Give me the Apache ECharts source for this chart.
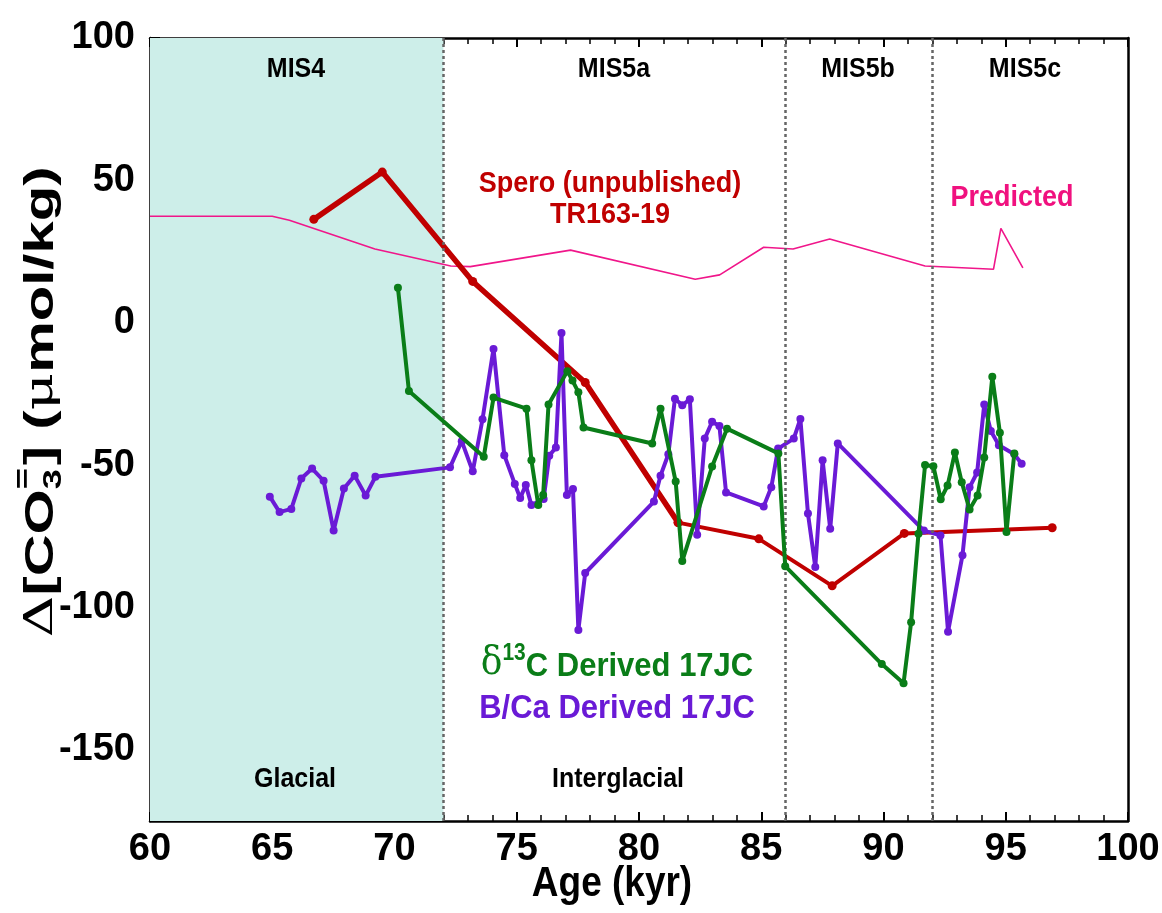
<!DOCTYPE html>
<html>
<head>
<meta charset="utf-8">
<title>Carbonate ion reconstruction, 60-100 kyr</title>
<script src="https://cdn.jsdelivr.net/npm/echarts@6/dist/echarts.min.js"></script>
<style>
  html, body { margin: 0; padding: 0; background: #ffffff; }
  #chart { width: 1162px; height: 913px; }
</style>
</head>
<body>
<div id="chart"></div>
<script>
// ---- data -------------------------------------------------------------
// Predicted carbonate ion change (thin pink curve)
const predictedAge = [60, 65, 65.7, 69.2, 72.3, 73.1, 77.2, 82.3, 83.3, 85.1, 86.3, 87.8, 91.7, 94.5, 94.8, 95.7];
const predictedCO3 = [37.4, 37.4, 36, 25.9, 19.9, 19.7, 25.5, 15.3, 16.8, 26.5, 25.9, 29.4, 19.9, 18.8, 33.1, 19.3];

// Spero (unpublished), TR163-19
const speroAge = [66.7, 69.5, 73.2, 77.8, 81.6, 84.9, 87.9, 90.85, 96.9];
const speroCO3 = [36.3, 52.9, 14.5, -21, -70.2, -75.9, -92.4, -74, -72];

// d13C derived, 17JC
const d13cAge = [70.14, 70.59, 73.65, 74.05, 75.4, 75.6, 75.88, 76.08, 76.3, 77.07, 77.28, 77.52, 77.73,
  80.54, 80.88, 81.5, 81.77, 82.99, 83.6, 85.7, 85.98, 89.93, 90.82, 91.13, 91.43, 91.7, 92.04, 92.34,
  92.62, 92.92, 93.2, 93.52, 93.85, 94.12, 94.45, 94.76, 95.03, 95.35];
const d13cCO3 = [12.3, -24, -47.1, -26.3, -30.2, -48.3, -64, -60.5, -28.7, -17, -20.3, -24.4, -36.8,
  -42.4, -30.2, -55.8, -83.7, -50.5, -37.2, -45.9, -85.5, -119.9, -126.6, -105.2, -74.1, -50, -50.4, -62,
  -57.2, -45.6, -56, -65.6, -60.7, -47.3, -19, -38.6, -73.5, -45.9];

// B/Ca derived, 17JC
const bcaAge = [64.9, 65.3, 65.78, 66.19, 66.63, 67.1, 67.51, 67.93, 68.37, 68.82, 69.22, 72.27, 72.75,
  73.2, 73.6, 74.05, 74.49, 74.92, 75.14, 75.37, 75.6, 76.1, 76.33, 76.6, 76.83, 77.05, 77.3, 77.52, 77.8,
  80.61, 80.88, 81.2, 81.47, 81.77, 82.08, 82.38, 82.69, 82.99, 83.29, 83.56, 85.1, 85.41, 85.69, 86.33,
  86.6, 86.91, 87.21, 87.51, 87.82, 88.13, 91.65, 92.33, 92.64, 93.23, 93.52, 93.83, 94.12, 94.39, 94.72,
  95.35, 95.65];
const bcaCO3 = [-61.1, -66.5, -65.4, -54.7, -51.2, -55.5, -73, -58.2, -53.7, -60.7, -54.1, -50.8, -41.6,
  -52.2, -33.9, -9.2, -46.5, -56.6, -61.6, -57, -64, -61.9, -46.7, -43.8, -3.6, -60.5, -58.4, -107.9, -87.9,
  -62.8, -53.7, -46.2, -26.7, -29, -26.9, -74.5, -40.7, -34.8, -36.3, -59.6, -64.5, -57.8, -44.2, -40.7,
  -33.8, -67, -85.8, -48.3, -72.4, -42.4, -73, -74.7, -108.5, -81.7, -57.8, -52.6, -28.7, -38, -43,
  -46.2, -49.5];

// Marine isotope stage boundaries and glacial interval
const glacialSpan = [60, 72];
const stageBoundaries = [72, 86, 92];

// Axis ticks
const yMajorTicks = [-150, -100, -50, 0, 50, 100];
const yMinorTicks = [-170, -160, -140, -130, -120, -110, -90, -80, -70, -60, -40, -30, -20, -10,
  10, 20, 30, 40, 60, 70, 80, 90];

// ---- helpers ----------------------------------------------------------
const zip = (xs, ys) => xs.map((x, i) => [x, ys[i]]);

const SANS = '"Liberation Sans", Arial, sans-serif';
const BOLD = 'bold 25px ' + SANS;
const C_RED = '#c00000', C_GREEN = '#0a7d18', C_PURPLE = '#6a1ad6', C_PINK = '#f0168a';

const measureCtx = document.createElement('canvas').getContext('2d');
function textWidth(str, font) { measureCtx.font = font; return measureCtx.measureText(str).width; }

// Rotated y-axis title: Δ[CO3=] (μmol/kg) built from pieces
function yTitle() {
  const fBold = 'bold 40px ' + SANS;
  const fSym = '40px "DejaVu Serif", "Liberation Serif", serif';
  const fSmall = 'bold 25px ' + SANS;
  const pieces = [
    { t: 'Δ', f: fSym, dy: 0 },
    { t: '[CO', f: fBold, dy: 0 },
    { t: '3', f: fSmall, dy: 12, stack: true },
    { t: '=', f: fSmall, dy: -18, stackTop: true },
    { t: '] (', f: fBold, dy: 0 },
    { t: 'μ', f: fSym, dy: 0 },
    { t: 'mol/kg)', f: fBold, dy: 0 }
  ];
  let x = 0; const els = [];
  let stackX = 0, stackW = 0;
  pieces.forEach(p => {
    const w = textWidth(p.t, p.f);
    if (p.stack) { stackX = x; stackW = w; }
    const px = p.stackTop ? stackX : x;
    els.push({ type: 'text', x: px, y: p.dy,
      style: { text: p.t, font: p.f, fill: '#000', verticalAlign: 'middle' } });
    if (p.stackTop) { x = stackX + Math.max(stackW, w) + 2; }
    else if (!p.stack) { x += w; }
  });
  els.forEach(e => { e.x -= x / 2; });
  return { type: 'group', x: 42, y: 402, rotation: Math.PI / 2, scaleX: 1.45, scaleY: 1.0, children: els };
}

function label(text, x, y, color, font, sy) {
  return { type: 'text', x, y, scaleY: sy || 1.1, style: { text, font: font || BOLD, fill: color || '#000',
    align: 'center', verticalAlign: 'middle' }, z: 100 };
}

// ---- chart ------------------------------------------------------------
const chart = echarts.init(document.getElementById('chart'), null, { renderer: 'canvas' });

const axisLineStyle = { color: '#000', width: 2.5 };
const tickFont = { fontFamily: SANS, fontWeight: 'bold', fontSize: 38, color: '#000' };

const option = {
  backgroundColor: '#ffffff',
  animation: false,
  grid: { left: 150, right: 34, top: 38, bottom: 92, containLabel: false, outerBoundsMode: 'none' },
  xAxis: [
    { type: 'value', position: 'bottom', min: 60, max: 100, interval: 5,
      axisLine: { show: true, onZero: false, lineStyle: axisLineStyle },
      axisTick: { show: true, inside: true, length: 9, lineStyle: { color: '#000', width: 2 } },
      minorTick: { show: true, splitNumber: 5, length: 6, lineStyle: { color: '#000', width: 1.5 } },
      axisLabel: Object.assign({ margin: 10 }, tickFont),
      splitLine: { show: false }
    },
    { type: 'value', position: 'top', min: 60, max: 100, interval: 5,
      axisLine: { show: true, onZero: false, lineStyle: axisLineStyle },
      axisTick: { show: true, inside: true, length: 9, lineStyle: { color: '#000', width: 2 } },
      minorTick: { show: true, splitNumber: 5, length: 6, lineStyle: { color: '#000', width: 1.5 } },
      axisLabel: { show: false }, splitLine: { show: false }
    }
  ],
  yAxis: [
    { type: 'value', position: 'left', min: -175, max: 100, interval: 25,
      axisLine: { show: true, onZero: false, lineStyle: axisLineStyle },
      axisTick: { show: true, inside: true, length: 10, customValues: yMajorTicks, lineStyle: { color: '#000', width: 2 } },
      axisLabel: Object.assign({ margin: 15, customValues: yMajorTicks }, tickFont),
      splitLine: { show: false }
    },
    { type: 'value', position: 'left', min: -175, max: 100, interval: 25,
      axisLine: { show: false },
      axisTick: { show: true, inside: true, length: 6, customValues: yMinorTicks, lineStyle: { color: '#000', width: 1.5 } },
      axisLabel: { show: false }, splitLine: { show: false }
    },
    { type: 'value', position: 'right', min: -175, max: 100, interval: 25,
      axisLine: { show: true, onZero: false, lineStyle: axisLineStyle },
      axisTick: { show: false }, axisLabel: { show: false }, splitLine: { show: false }
    }
  ],
  graphic: [
    yTitle(),
    label('Age (kyr)', 612, 884, '#000', 'bold 37px ' + SANS, 1.15),
    label('MIS4', 296, 69),
    label('MIS5a', 614, 69),
    label('MIS5b', 858, 69),
    label('MIS5c', 1025, 69),
    label('Glacial', 295, 779),
    label('Interglacial', 618, 779),
    label('Spero (unpublished)', 610, 184, C_RED, 'bold 27px ' + SANS),
    label('TR163-19', 610, 215, C_RED, 'bold 27px ' + SANS),
    label('Predicted', 1012, 198, '#f0117f', 'bold 27px ' + SANS),
    { type: 'text', x: 617, y: 663, z: 100, scaleY: 1.1,
      style: { text: '{d|δ}{s|13}{b|C Derived 17JC}', align: 'center', verticalAlign: 'middle', fill: C_GREEN,
        rich: {
          d: { font: '36px "DejaVu Serif", "Liberation Serif", serif', fill: C_GREEN, lineHeight: 38, verticalAlign: 'bottom' },
          s: { font: 'bold 21px ' + SANS, fill: C_GREEN, lineHeight: 38, verticalAlign: 'top' },
          b: { font: 'bold 31px ' + SANS, fill: C_GREEN, lineHeight: 38, verticalAlign: 'bottom' }
        } } },
    label('B/Ca Derived 17JC', 617, 709, C_PURPLE, 'bold 31px ' + SANS)
  ],
  series: [
    { name: 'Predicted', type: 'line', data: zip(predictedAge, predictedCO3),
      showSymbol: false, symbol: 'none', z: 2,
      lineStyle: { color: C_PINK, width: 1.6 },
      markArea: { silent: true, itemStyle: { color: '#cdeee9' },
        data: [[{ xAxis: glacialSpan[0] }, { xAxis: glacialSpan[1] }]] },
      markLine: { silent: true, symbol: 'none', label: { show: false },
        lineStyle: { color: '#666', type: [3, 3], width: 2.5 },
        data: stageBoundaries.map(v => ({ xAxis: v })) }
    },
    { name: 'Spero TR163-19', type: 'line', data: zip(speroAge, speroCO3).slice(0, 5),
      symbol: 'circle', symbolSize: 9, z: 3,
      itemStyle: { color: C_RED }, lineStyle: { color: C_RED, width: 5.5 } },
    { name: 'Spero TR163-19 (cont.)', type: 'line', data: zip(speroAge, speroCO3).slice(4),
      symbol: 'circle', symbolSize: 9, z: 3,
      itemStyle: { color: C_RED }, lineStyle: { color: C_RED, width: 4 } },
    { name: 'B/Ca Derived 17JC', type: 'line', data: zip(bcaAge, bcaCO3),
      symbol: 'circle', symbolSize: 8, z: 4,
      itemStyle: { color: C_PURPLE }, lineStyle: { color: C_PURPLE, width: 4 } },
    { name: 'δ13C Derived 17JC', type: 'line', data: zip(d13cAge, d13cCO3),
      symbol: 'circle', symbolSize: 8, z: 5,
      itemStyle: { color: C_GREEN }, lineStyle: { color: C_GREEN, width: 4 } }
  ]
};

chart.setOption(option);
</script>
</body>
</html>
